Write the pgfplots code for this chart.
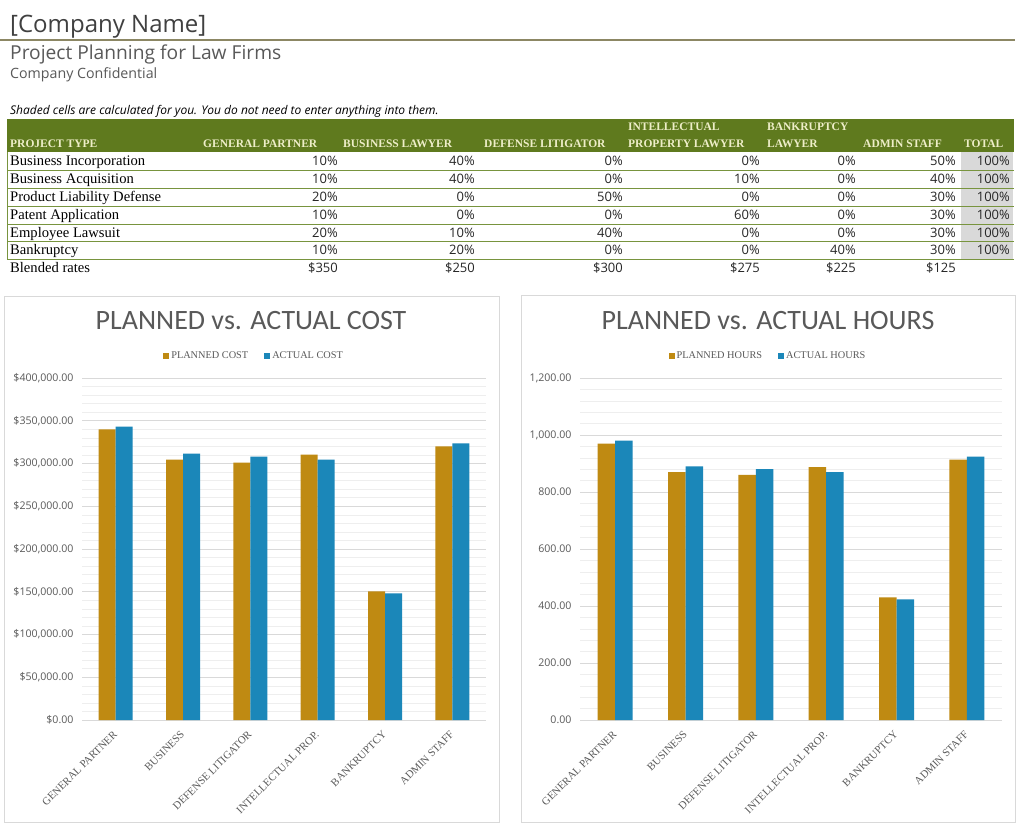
\documentclass[border=0pt]{standalone}
\usepackage{pgfplots}
\pgfplotsset{compat=1.18}
\usepackage{fontspec}
\setmainfont{Liberation Serif}
\newfontfamily\sansf{Open Sans}
\newfontfamily\titlef{Carlito}
\definecolor{planned}{RGB}{191,138,18}
\definecolor{actual}{RGB}{27,135,185}
\definecolor{hdrgreen}{RGB}{95,122,30}
\definecolor{hdrtext}{RGB}{238,238,200}
\definecolor{rowline}{RGB}{120,148,62}
\definecolor{txtgray}{RGB}{89,89,89}
\definecolor{darktxt}{RGB}{64,64,64}
\definecolor{oliveline}{RGB}{140,135,100}
\definecolor{cellshade}{RGB}{217,217,217}
\definecolor{boxgray}{RGB}{217,217,217}
\definecolor{minorgray}{RGB}{238,238,238}
\newcommand\fs[1]{\fontsize{#1}{#1}\selectfont}

\pgfplotsset{mybar/.style={
  scale only axis, ybar=0pt, enlargelimits=false, xmin=-0.5, xmax=5.5, ymin=0,
  axis line style={draw=none}, tick style={draw=none},
  ymajorgrids, yminorgrids, minor y tick num=4,
  major grid style={color=boxgray, line width=0.8pt},
  minor grid style={color=minorgray, line width=0.6pt},
  xtick={0,1,2,3,4,5},
  xticklabels={GENERAL PARTNER, BUSINESS, DEFENSE LITIGATOR, INTELLECTUAL PROP., BANKRUPTCY, ADMIN STAFF},
  xticklabel style={xshift=2pt, yshift=-6pt, rotate=45, anchor=east, font=\fs{10.8}, text=txtgray},
  yticklabel style={xshift=-5pt, font=\sansf\fs{10.6}, text=txtgray},
  scaled y ticks=false,
  legend columns=2,
  legend style={draw=none, fill=none, font=\fs{10.3}, text=txtgray,
    /tikz/every even column/.append style={column sep=14pt}},
  legend image code/.code={\fill[##1] (0pt,-3pt) rectangle (6pt,3pt);},
}}

\begin{document}
\begin{tikzpicture}[x=1pt,y=1pt]
\path[use as bounding box, fill=white] (0,0) rectangle (1024,-832);

% ---------- header ----------
\node[anchor=base west, inner sep=0, text=darktxt, font=\sansf\fs{24}] at (10,-33) {[Company Name]};
\draw[oliveline, line width=1.2pt] (0,-40) -- (1015,-40);
\node[anchor=base west, inner sep=0, text=txtgray, font=\sansf\fs{19.2}] at (10,-59.5) {Project Planning for Law Firms};
\node[anchor=base west, inner sep=0, text=txtgray, font=\sansf\fs{14.2}] at (10,-79) {Company Confidential};
\node[anchor=base west, inner sep=0, text=black, font=\sansf\itshape\fs{12}] at (10,-114) {Shaded cells are calculated for you. You do not need to enter anything into them.};

% ---------- table ----------
\fill[hdrgreen] (7,-119) rectangle (1014,-152);
\fill[cellshade] (961,-152) rectangle (1013,-259);
\foreach \yy in {170,188,206,224,241.5,259}{\draw[rowline, line width=0.8pt] (7,-\yy) -- (1014,-\yy);}
\draw[rowline, line width=0.8pt] (7,-152) -- (7,-259);

\begin{scope}[every node/.style={anchor=base west, inner sep=0, text=hdrtext, font=\bfseries\fs{11.5}}]
\node at (10,-147.5) {PROJECT TYPE};
\node at (203,-147.5) {GENERAL PARTNER};
\node at (343,-147.5) {BUSINESS LAWYER};
\node at (484,-147.5) {DEFENSE LITIGATOR};
\node at (628,-131) {INTELLECTUAL};
\node at (628,-147.5) {PROPERTY LAWYER};
\node at (767,-131) {BANKRUPTCY};
\node at (767,-147.5) {LAWYER};
\node at (863,-147.5) {ADMIN STAFF};
\node at (964,-147.5) {TOTAL};
\end{scope}

\foreach \yy/\name/\a/\b/\c/\d/\e/\f in {
  165.5/Business Incorporation/10/40/0/0/0/50,
  183.5/Business Acquisition/10/40/0/10/0/40,
  201.5/Product Liability Defense/20/0/50/0/0/30,
  219.5/Patent Application/10/0/0/60/0/30,
  237/Employee Lawsuit/20/10/40/0/0/30,
  254.5/Bankruptcy/10/20/0/0/40/30}{
  \node[anchor=base west, inner sep=0, text=black, font=\fs{14.6}] at (10,-\yy) {\name};
  \begin{scope}[every node/.style={anchor=base east, inner sep=0, text=black!85, font=\sansf\fs{13}}]
  \node at (338,-\yy) {\a\%};
  \node at (475,-\yy) {\b\%};
  \node at (623,-\yy) {\c\%};
  \node at (760,-\yy) {\d\%};
  \node at (856,-\yy) {\e\%};
  \node at (956,-\yy) {\f\%};
  \node at (1010,-\yy) {100\%};
  \end{scope}
}
\node[anchor=base west, inner sep=0, text=black, font=\fs{14.6}] at (10,-272) {Blended rates};
\begin{scope}[every node/.style={anchor=base east, inner sep=0, text=black!85, font=\sansf\fs{13}}]
\node at (338,-272) {\$350};
\node at (475,-272) {\$250};
\node at (623,-272) {\$300};
\node at (760,-272) {\$275};
\node at (856,-272) {\$225};
\node at (956,-272) {\$125};
\end{scope}

% ---------- chart frames and titles ----------
\draw[boxgray, line width=0.8pt] (4.5,-296) rectangle (499.5,-822);
\draw[boxgray, line width=0.8pt] (521,-295.5) rectangle (1015.5,-822);
\node[font=\titlef\fs{28}, text=txtgray, inner sep=0] at (251,-321) {PLANNED vs. ACTUAL COST};
\node[font=\titlef\fs{28}, text=txtgray, inner sep=0] at (768,-321) {PLANNED vs. ACTUAL HOURS};

% ---------- cost chart ----------
\begin{axis}[mybar, at={(82pt,-720pt)}, anchor=south west, width=404pt, height=342pt,
  bar width=17pt, ymax=400000,
  ytick={0,50000,100000,150000,200000,250000,300000,350000,400000},
  yticklabels={\$0.00,{\$50,000.00},{\$100,000.00},{\$150,000.00},{\$200,000.00},{\$250,000.00},{\$300,000.00},{\$350,000.00},{\$400,000.00}},
  legend style={at={(0.426,1.064)}, anchor=center}]
\addplot[fill=planned, draw=none] coordinates {(0,340000) (1,304500) (2,301000) (3,310500) (4,150500) (5,320000)};
\addplot[fill=actual, draw=none] coordinates {(0,343000) (1,311500) (2,308000) (3,304500) (4,148000) (5,323500)};
\legend{PLANNED COST, ACTUAL COST}
\end{axis}

% ---------- hours chart ----------
\begin{axis}[mybar, at={(580pt,-720pt)}, anchor=south west, width=422pt, height=342pt,
  bar width=17.5pt, ymax=1200,
  ytick={0,200,400,600,800,1000,1200},
  yticklabels={0.00,200.00,400.00,600.00,800.00,{1,000.00},{1,200.00}},
  legend style={at={(0.4455,1.064)}, anchor=center}]
\addplot[fill=planned, draw=none] coordinates {(0,970) (1,870) (2,860) (3,887) (4,430) (5,914)};
\addplot[fill=actual, draw=none] coordinates {(0,980) (1,890) (2,880) (3,870) (4,423) (5,924)};
\legend{PLANNED HOURS, ACTUAL HOURS}
\end{axis}
\end{tikzpicture}
\end{document}
